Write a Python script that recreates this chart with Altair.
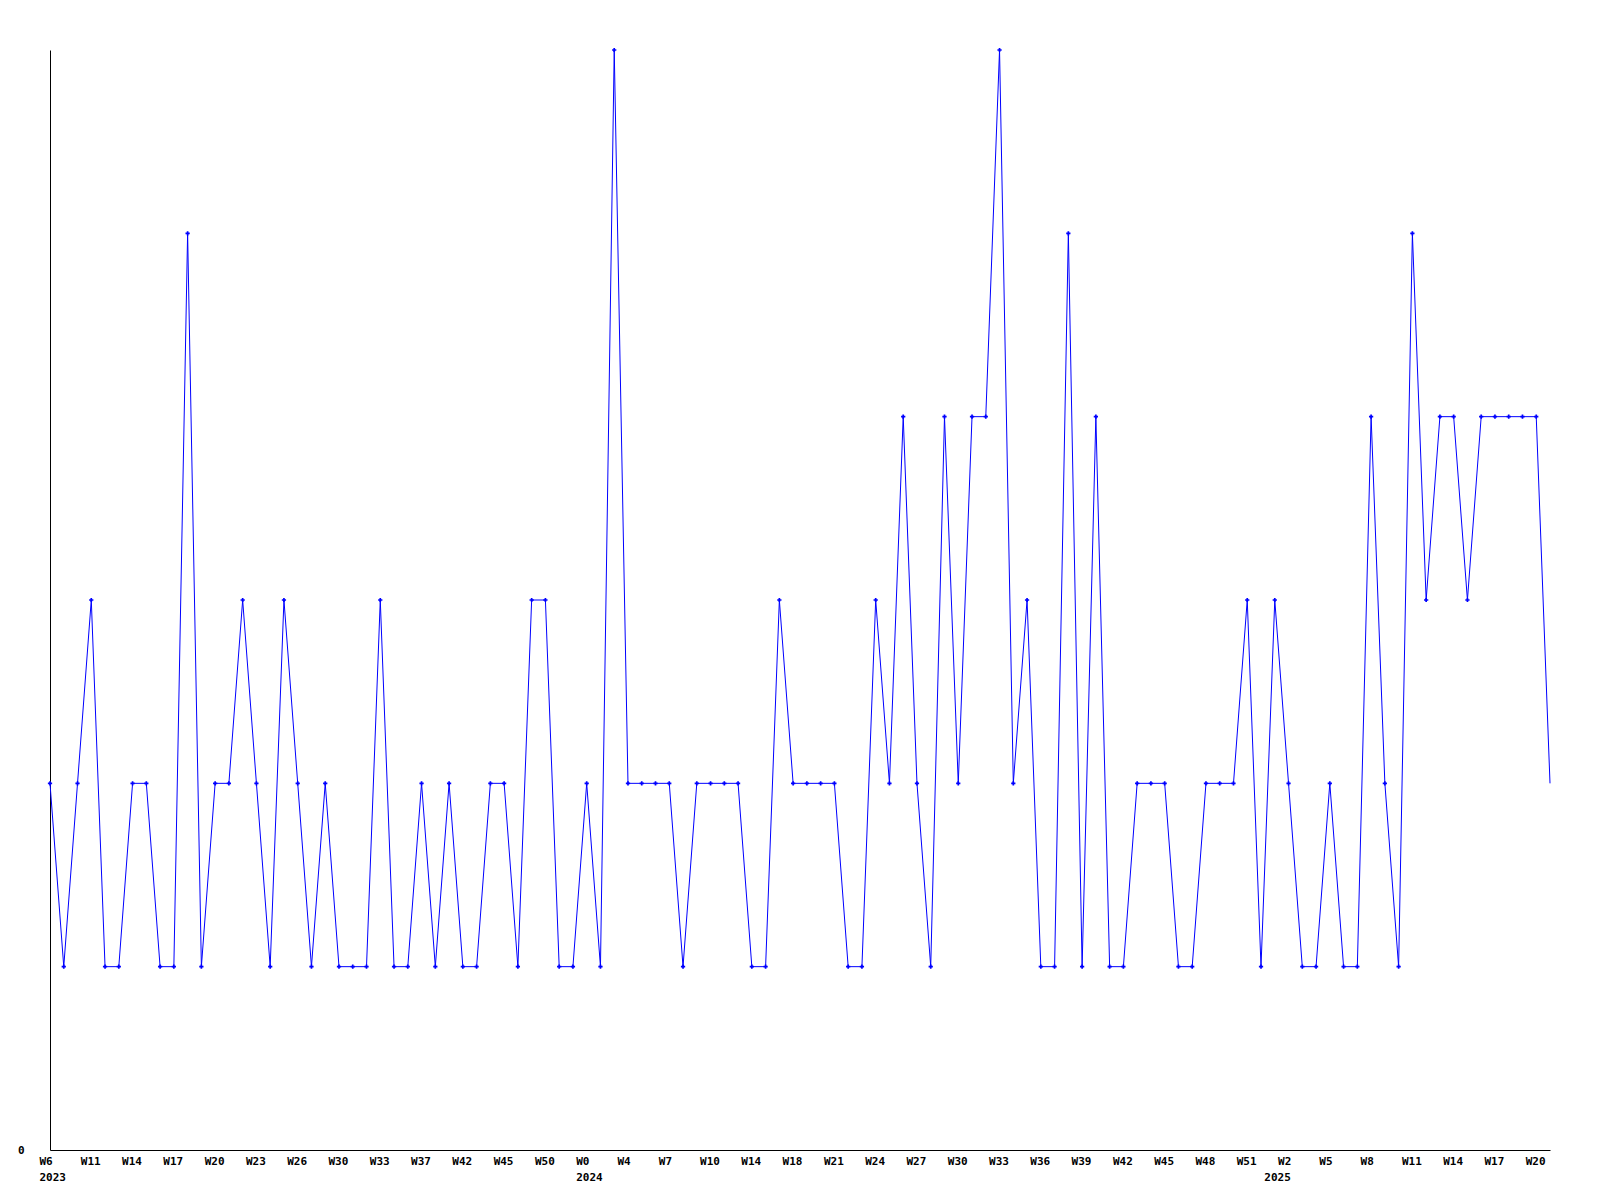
import altair as alt
import pandas as pd
import json

values = [2, 1, 2, 3, 1, 1, 2, 2, 1, 1,
          5, 1, 2, 2, 3, 2, 1, 3, 2, 1,
          2, 1, 1, 1, 3, 1, 1, 2, 1, 2,
          1, 1, 2, 2, 1, 3, 3, 1, 1, 2,
          1, 6, 2, 2, 2, 2, 1, 2, 2, 2,
          2, 1, 1, 3, 2, 2, 2, 2, 1, 1,
          3, 2, 4, 2, 1, 4, 2, 4, 4, 6,
          2, 3, 1, 1, 5, 1, 4, 1, 1, 2,
          2, 2, 1, 1, 2, 2, 2, 3, 1, 3,
          2, 1, 1, 2, 1, 1, 4, 2, 1, 5,
          3, 4, 4, 3, 4, 4, 4, 4, 4, 2]

tick_labels = ["W6", "W11", "W14", "W17", "W20", "W23", "W26", "W30", "W33", "W37",
               "W42", "W45", "W50", "W0", "W4", "W7", "W10", "W14", "W18", "W21",
               "W24", "W27", "W30", "W33", "W36", "W39", "W42", "W45", "W48", "W51",
               "W2", "W5", "W8", "W11", "W14", "W17", "W20"]
# year label -> index of first point of that year
year_starts = {0: "2023", 39: "2024", 89: "2025"}

n = len(values)
df = pd.DataFrame({"idx": list(range(n)), "value": values})
# last (incomplete) period is drawn without a marker
df["marker"] = [i < n - 1 for i in range(n)]

tick_idx = sorted(set([3 * k for k in range(len(tick_labels))]) | set(year_starts))
lbl_map = {str(3 * k): t for k, t in enumerate(tick_labels)}
yr_map = {str(k): y for k, y in year_starts.items()}

label_expr = ("[%s[datum.value] || '', %s[datum.value] || '']"
              % (json.dumps(lbl_map), json.dumps(yr_map)))

blue = "#0000FF"

x = alt.X("idx:Q", scale=alt.Scale(domain=[0, n - 1], nice=False, zero=False),
          axis=alt.Axis(values=tick_idx, labelExpr=label_expr, title=None,
                        ticks=False, grid=False, domainColor="black", domainWidth=1,
                        labelAlign="left", labelOffset=-11, labelBaseline="top",
                        labelPadding=5, labelLineHeight=16,
                        labelFont="DejaVu Sans Mono", labelFontWeight="bold",
                        labelFontSize=11, labelColor="black", labelOverlap=False,
                        labelBound=False, labelFlush=False))
y = alt.Y("value:Q", scale=alt.Scale(domain=[0, 6], nice=False),
          axis=alt.Axis(values=[0], title=None, ticks=False, grid=False,
                        domainColor="black", domainWidth=1, labelPadding=26,
                        labelBaseline="middle",
                        labelFont="DejaVu Sans Mono", labelFontWeight="bold",
                        labelFontSize=11, labelColor="black"))

base = alt.Chart(df)
line = base.mark_line(color=blue, strokeWidth=1).encode(x=x, y=y)
pts = base.transform_filter(alt.datum.marker).mark_point(
    shape="cross", filled=True, color=blue, size=18, opacity=1).encode(x=x, y=y)

chart = alt.layer(line, pts).properties(
    width=1500, height=1100,
    background="white",
    autosize=alt.AutoSizeParams(type="none"),
    padding={"left": 42, "top": 42, "right": 30, "bottom": 40},
).configure_view(stroke=None)

chart.save("out.html", embed_options={"renderer": "svg", "actions": False})
